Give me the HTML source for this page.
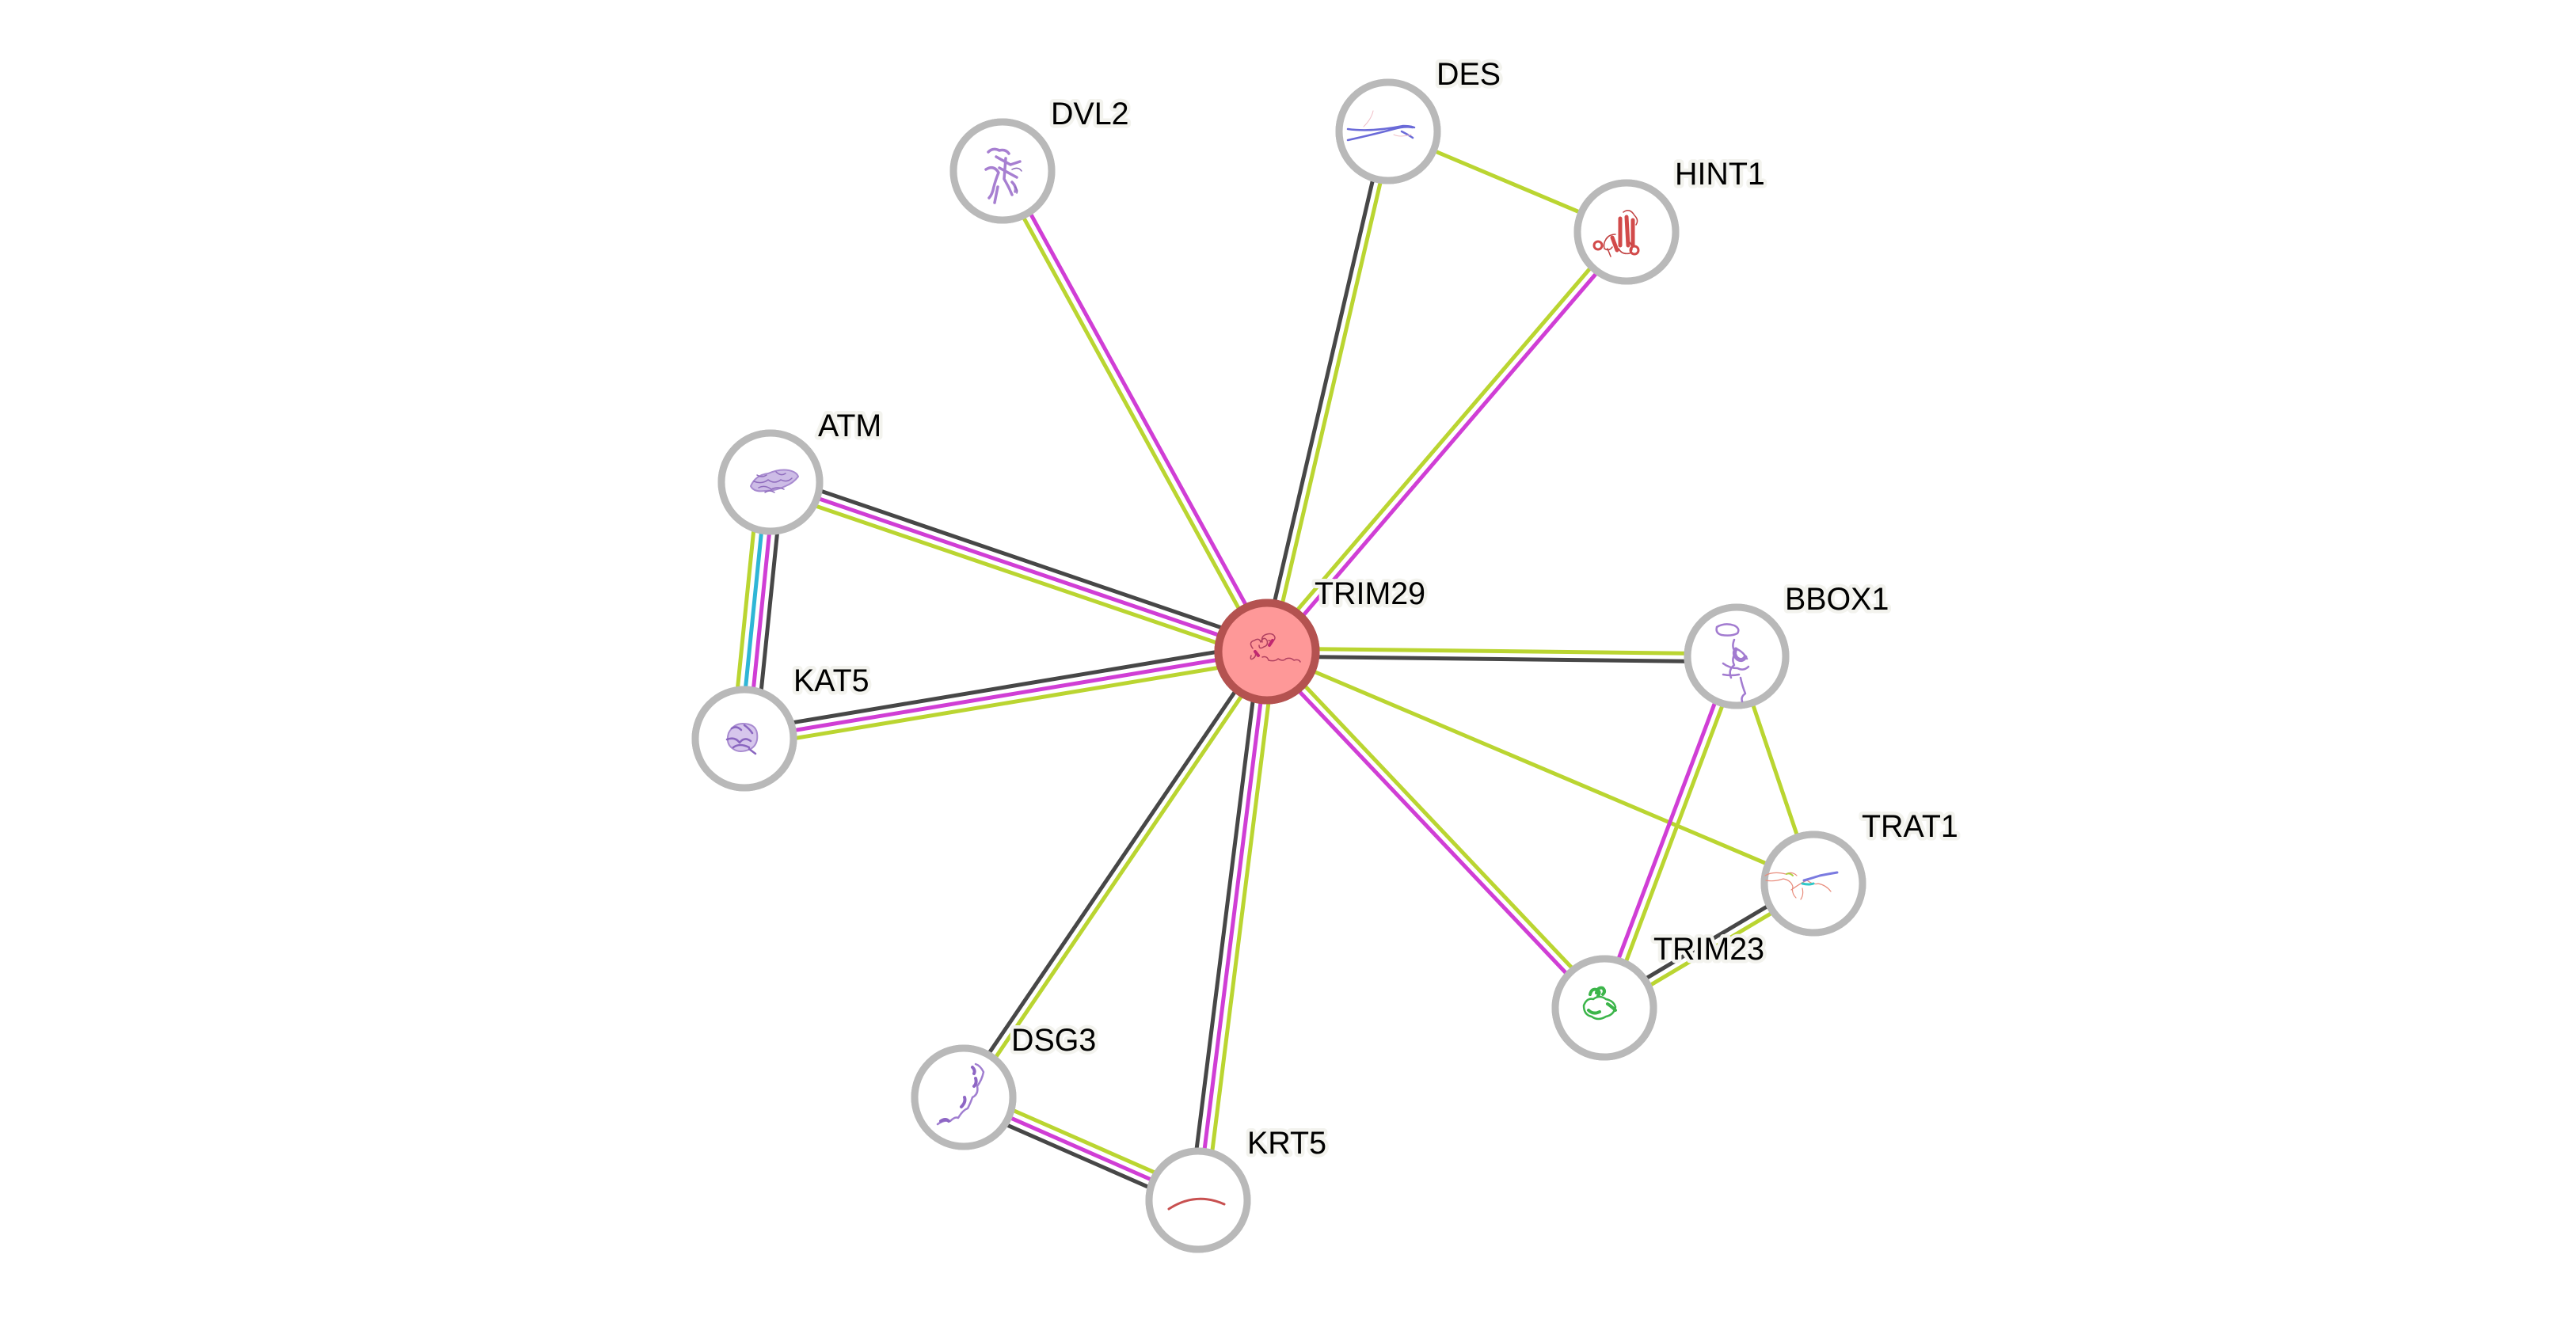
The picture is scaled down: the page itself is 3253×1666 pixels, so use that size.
<!DOCTYPE html>
<html><head><meta charset="utf-8"><style>
html,body{margin:0;padding:0;background:#fff;}
svg{display:block;}
text{font-family:"Liberation Sans",Arial,sans-serif;font-size:39.4px;fill:#000;stroke:#f3f3ee;stroke-width:9px;stroke-linejoin:round;paint-order:stroke fill;}
</style></head><body>
<svg width="3253" height="1666" viewBox="0 0 3253 1666" xmlns="http://www.w3.org/2000/svg">
<defs>
<radialGradient id="ng" cx="0.5" cy="0.5" r="0.5">
<stop offset="0" stop-color="#ffffff"/>
<stop offset="0.86" stop-color="#ffffff"/>
<stop offset="0.93" stop-color="#e6e6e6"/>
<stop offset="1" stop-color="#b9b9b9"/>
</radialGradient>
<radialGradient id="tg" cx="0.5" cy="0.5" r="0.5">
<stop offset="0" stop-color="#fe9898"/>
<stop offset="0.86" stop-color="#fe9898"/>
<stop offset="0.93" stop-color="#e07a78"/>
<stop offset="1" stop-color="#b45250"/>
</radialGradient>
</defs>
<rect width="3253" height="1666" fill="#fff"/>
<g stroke-width="5" fill="none" stroke-linecap="butt">
<line x1="1604.4" y1="820.6" x2="1270.4" y2="213.6" stroke="#d03ed5"/>
<line x1="1595.6" y1="825.4" x2="1261.6" y2="218.4" stroke="#bad531"/>
<line x1="1595.1" y1="821.9" x2="1748.1" y2="164.9" stroke="#474747"/>
<line x1="1604.9" y1="824.1" x2="1757.9" y2="167.1" stroke="#bad531"/>
<line x1="1753" y1="166" x2="2054" y2="293" stroke="#bad531"/>
<line x1="1603.8" y1="826.3" x2="2057.8" y2="296.3" stroke="#d03ed5"/>
<line x1="1596.2" y1="819.7" x2="2050.2" y2="289.7" stroke="#bad531"/>
<line x1="1603.2" y1="813.5" x2="976.2" y2="599.5" stroke="#474747"/>
<line x1="1600" y1="823" x2="973" y2="609" stroke="#d03ed5"/>
<line x1="1596.8" y1="832.5" x2="969.8" y2="618.5" stroke="#bad531"/>
<line x1="1598.4" y1="813.1" x2="938.4" y2="923.1" stroke="#474747"/>
<line x1="1600" y1="823" x2="940" y2="933" stroke="#d03ed5"/>
<line x1="1601.6" y1="832.9" x2="941.6" y2="942.9" stroke="#bad531"/>
<line x1="958.1" y1="607.5" x2="925.1" y2="931.5" stroke="#bad531"/>
<line x1="968.0" y1="608.5" x2="935.0" y2="932.5" stroke="#2fb6d6"/>
<line x1="978.0" y1="609.5" x2="945.0" y2="933.5" stroke="#d03ed5"/>
<line x1="987.9" y1="610.5" x2="954.9" y2="934.5" stroke="#474747"/>
<line x1="1600" y1="819" x2="2193" y2="826" stroke="#bad531"/>
<line x1="1600" y1="829" x2="2193" y2="836" stroke="#474747"/>
<line x1="1600" y1="823" x2="2290" y2="1116" stroke="#bad531"/>
<line x1="1596.4" y1="826.4" x2="2022.4" y2="1276.4" stroke="#d03ed5"/>
<line x1="1603.6" y1="819.6" x2="2029.6" y2="1269.6" stroke="#bad531"/>
<line x1="2188.3" y1="827.2" x2="2021.3" y2="1271.2" stroke="#d03ed5"/>
<line x1="2197.7" y1="830.8" x2="2030.7" y2="1274.8" stroke="#bad531"/>
<line x1="2193" y1="829" x2="2290" y2="1116" stroke="#bad531"/>
<line x1="2287.4" y1="1111.7" x2="2023.4" y2="1268.7" stroke="#474747"/>
<line x1="2292.6" y1="1120.3" x2="2028.6" y2="1277.3" stroke="#bad531"/>
<line x1="1595.9" y1="820.2" x2="1212.9" y2="1383.2" stroke="#474747"/>
<line x1="1604.1" y1="825.8" x2="1221.1" y2="1388.8" stroke="#bad531"/>
<line x1="1590.1" y1="821.8" x2="1503.1" y2="1514.8" stroke="#474747"/>
<line x1="1600" y1="823" x2="1513" y2="1516" stroke="#d03ed5"/>
<line x1="1609.9" y1="824.2" x2="1522.9" y2="1517.2" stroke="#bad531"/>
<line x1="1221.0" y1="1376.8" x2="1517.0" y2="1506.8" stroke="#bad531"/>
<line x1="1217" y1="1386" x2="1513" y2="1516" stroke="#d03ed5"/>
<line x1="1213.0" y1="1395.2" x2="1509.0" y2="1525.2" stroke="#474747"/>
</g>

<g>
<circle cx="1266" cy="216" r="66.5" fill="url(#ng)"/>
<circle cx="1753" cy="166" r="66.5" fill="url(#ng)"/>
<circle cx="2054" cy="293" r="66.5" fill="url(#ng)"/>
<circle cx="973" cy="609" r="66.5" fill="url(#ng)"/>
<circle cx="940" cy="933" r="66.5" fill="url(#ng)"/>
<circle cx="2193" cy="829" r="66.5" fill="url(#ng)"/>
<circle cx="2290" cy="1116" r="66.5" fill="url(#ng)"/>
<circle cx="2026" cy="1273" r="66.5" fill="url(#ng)"/>
<circle cx="1217" cy="1386" r="66.5" fill="url(#ng)"/>
<circle cx="1513" cy="1516" r="66.5" fill="url(#ng)"/>
</g>
<g fill="none" stroke="#b9b9b9" stroke-width="9">
<circle cx="1266" cy="216" r="62"/>
<circle cx="1753" cy="166" r="62"/>
<circle cx="2054" cy="293" r="62"/>
<circle cx="973" cy="609" r="62"/>
<circle cx="940" cy="933" r="62"/>
<circle cx="2193" cy="829" r="62"/>
<circle cx="2290" cy="1116" r="62"/>
<circle cx="2026" cy="1273" r="62"/>
<circle cx="1217" cy="1386" r="62"/>
<circle cx="1513" cy="1516" r="62"/>
</g>
<circle cx="1600" cy="823" r="66.5" fill="url(#tg)"/>
<circle cx="1600" cy="823" r="61.5" fill="none" stroke="#b45250" stroke-width="10"/>

<g fill="none" stroke-linecap="round" stroke-linejoin="round">
<path d="M1582 819 q-6 -8 2 -10 q6 -4 8 2 q4 -8 8 -2 q2 6 -4 8 q-6 4 -6 -2 M1584 822 q4 6 -2 10 q-4 2 -2 -4 M1594 811 q-2 -8 6 -10 q8 -2 10 4 q0 6 -8 4 M1594 830 q6 -2 8 4 q8 2 12 -2 q6 4 10 0 q6 -2 10 2 q6 -2 8 2" stroke="#b04060" stroke-width="1.5"/>
<path d="M1585 823 l4 5 M1603 815 l4 -6" stroke="#c02870" stroke-width="4"/>
<path d="M1248 192 q6 -6 14 -2 q8 -2 12 4 M1245 214 q10 -6 16 4 q-4 10 -6 18 q-2 10 -6 14 M1258 198 l18 10 l12 -4 M1262 212 l22 12 M1270 200 l-2 26 q6 10 10 20 M1278 230 q6 6 4 12 M1260 236 l-4 20" stroke="#a77fd1" stroke-width="3.5"/>
<path d="M1278 214 q8 -4 12 2 M1282 236 q4 4 2 8" stroke="#8a68b8" stroke-width="1.5"/>
<path d="M1702 163 q30 4 70 -4 q8 0 14 2 M1702 177 q36 -8 58 -14 q14 -4 24 -2 M1770 166 q8 4 14 8" stroke="#6a6ad8" stroke-width="2.5"/>
<path d="M1722 160 q10 -10 12 -20 M1760 170 q8 4 22 0" stroke="#f0c0c8" stroke-width="1"/>
<path d="M2046 276 l0 34 M2054 274 l2 36 M2062 278 l0 32 M2036 300 l6 16" stroke="#d24a4a" stroke-width="5"/>
<path d="M2050 268 q8 -6 14 4 q6 6 2 12 M2030 300 q-6 6 -4 14 q6 4 10 -2 M2040 296 q-8 0 -12 6 M2058 306 q6 8 0 14 q-10 2 -14 -6 M2030 314 l4 10" stroke="#c04040" stroke-width="1.5"/>
<circle cx="2018" cy="310" r="5" stroke="#d24a4a" stroke-width="3"/>
<circle cx="2064" cy="316" r="5" stroke="#d24a4a" stroke-width="3"/>
<path d="M948 614 q6 -14 22 -16 q14 -6 26 -4 q10 2 12 8 q-6 8 -16 12 q-12 6 -26 6 q-14 2 -18 -6" stroke="#a88bd0" stroke-width="2" fill="#cdbce6"/>
<path d="M952 608 q10 4 18 -2 q8 6 16 0 q8 4 14 -2 M958 616 q8 -4 16 2 q8 -4 16 0 M956 600 q6 4 12 0 M980 596 q6 6 12 2 M966 622 q6 -4 12 0" stroke="#8f6cbd" stroke-width="1.5"/>
<path d="M920 926 q6 -12 18 -12 q16 0 18 12 q2 14 -8 20 q-14 6 -22 0 q-10 -6 -6 -20" stroke="#a88bd0" stroke-width="2" fill="#d6c6ec"/>
<path d="M918 934 q10 -4 16 4 q6 -8 14 -2 M926 944 q8 -6 20 0 M946 946 l8 6 M924 920 q6 -4 12 2 M940 916 q6 4 10 10" stroke="#8a66c0" stroke-width="2.5"/>
<path d="M2168 792 q10 -6 22 -2 q8 4 4 10 q-8 4 -20 2 q-8 -2 -6 -10 M2190 808 q-4 10 2 16 q-6 8 -2 16 q-8 6 -4 16 M2194 820 q8 4 12 12 M2176 838 q8 6 18 6 q8 4 14 -2 M2176 852 q10 2 20 0 M2198 856 q2 10 6 20 q-6 4 -4 10" stroke="#a27bd0" stroke-width="2.5"/>
<path d="M2192 820 q-4 6 2 12 q6 4 10 -2" stroke="#a27bd0" stroke-width="5"/>
<path d="M2229 1106 q10 -6 26 -2 q8 -4 14 2 M2230 1112 q10 2 22 -2 q10 2 12 10 q-2 8 4 14 M2262 1124 q14 -10 20 -12 q8 6 14 4 q10 2 16 10 M2276 1122 q2 8 -2 14" stroke="#e88c7c" stroke-width="1.2"/>
<path d="M2278 1112 q14 -4 20 -6 q10 -2 22 -4" stroke="#7a7ae0" stroke-width="3"/>
<path d="M2276 1116 q8 2 14 0" stroke="#30c8c8" stroke-width="3"/>
<path d="M2256 1104 q4 -2 8 2" stroke="#b0d040" stroke-width="2"/>
<path d="M2000 1270 q4 -10 12 -8 q8 -6 16 0 q10 2 12 10 q-2 10 -12 12 q-10 6 -18 0 q-10 -2 -10 -14" stroke="#3cb54a" stroke-width="2.5"/>
<path d="M2008 1256 q2 -8 8 -6 q6 2 2 8 M2016 1254 q2 -8 8 -6 q4 4 0 8 M2006 1276 q6 6 14 2 M2030 1268 q6 4 10 8" stroke="#3cb54a" stroke-width="4"/>
<path d="M1184 1420 q8 -6 16 -4 q6 -6 10 -4 q6 -10 12 -12 q4 -8 6 -14 q8 -4 6 -14 q6 -8 8 -18 q-4 -8 -10 -10" stroke="#a07ed0" stroke-width="2.5"/>
<path d="M1188 1416 q6 -4 10 0 M1214 1398 q6 -6 4 -12 M1230 1372 q4 -4 2 -10 M1230 1356 q2 -4 -2 -8" stroke="#8e66c4" stroke-width="4"/>
<path d="M1476 1527 q34 -22 70 -6" stroke="#c85050" stroke-width="3"/>
</g>

<text x="1660" y="763">TRIM29</text>
<text x="1327" y="157">DVL2</text>
<text x="1814" y="107">DES</text>
<text x="2115" y="233">HINT1</text>
<text x="1033" y="551">ATM</text>
<text x="1002" y="873">KAT5</text>
<text x="2254" y="770">BBOX1</text>
<text x="2351" y="1057">TRAT1</text>
<text x="2088" y="1212">TRIM23</text>
<text x="1277" y="1327">DSG3</text>
<text x="1575" y="1457">KRT5</text>
</svg>
</body></html>
